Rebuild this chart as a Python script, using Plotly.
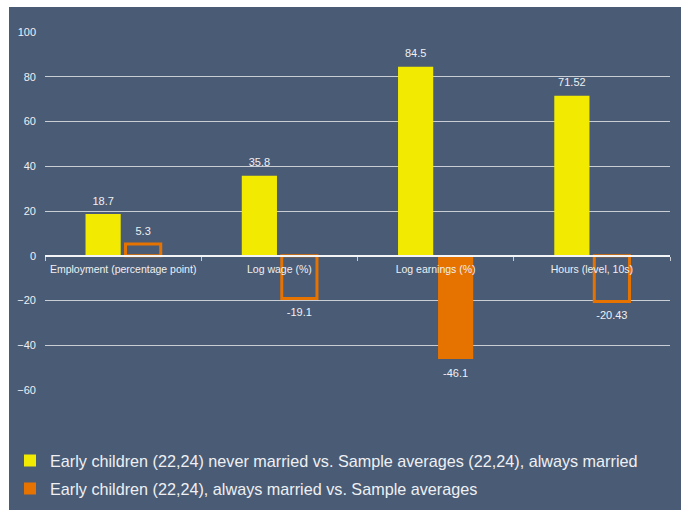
import plotly.graph_objects as go

categories = ["Employment (percentage point)", "Log wage (%)", "Log earnings (%)", "Hours (level, 10s)"]
never_married = [18.7, 35.8, 84.5, 71.52]
always_married = [5.3, -19.1, -46.1, -20.43]
always_married_hollow = [True, True, False, True]
series_names = [
    "Early children (22,24) never married vs. Sample averages (22,24), always married",
    "Early children (22,24), always married vs. Sample averages",
]
y_ticks = [100, 80, 60, 40, 20, 0, -20, -40, -60]

BG = "#4a5b75"
YELLOW = "#f2ea00"
ORANGE = "#e67300"
TXT = "#eef0f3"
FONT = "Liberation Sans, Arial, sans-serif"
BARGAP = 0.488

filled_vals = [None if h else v for v, h in zip(always_married, always_married_hollow)]
hollow_vals = [v if h else None for v, h in zip(always_married, always_married_hollow)]

fig = go.Figure()
fig.add_trace(go.Bar(
    x=categories, y=never_married, name=series_names[0], offsetgroup="a",
    marker=dict(color=YELLOW, line=dict(width=0)), legend="legend",
))
fig.add_trace(go.Bar(
    x=categories, y=filled_vals, name=series_names[1], offsetgroup="b",
    marker=dict(color=ORANGE, line=dict(width=0)), legend="legend2",
))
fig.add_trace(go.Bar(
    x=categories, y=hollow_vals, name=series_names[1], offsetgroup="b",
    marker=dict(color="rgba(0,0,0,0)", line=dict(width=3, color=ORANGE)),
    showlegend=False,
))

# value labels, grouped alongside the bars
for vals, grp in [(never_married, "a"), (always_married, "b")]:
    fig.add_trace(go.Scatter(
        x=categories, y=vals, mode="markers+text", offsetgroup=grp,
        marker=dict(size=[9 if v >= 0 else 14 for v in vals], opacity=0),
        text=[f"{v:g}" for v in vals],
        textposition=["top center" if v >= 0 else "bottom center" for v in vals],
        textfont=dict(color=TXT, size=11, family=FONT),
        cliponaxis=False, showlegend=False, hoverinfo="skip",
    ))

fig.add_shape(type="rect", xref="paper", yref="paper",
              x0=-0.0576, x1=1.0176, y0=-0.36, y1=1.0698,
              fillcolor=BG, line=dict(width=0), layer="below")

fig.update_layout(
    width=683, height=510,
    margin=dict(l=45, r=13, t=32, b=120, pad=0, autoexpand=False),
    paper_bgcolor="white", plot_bgcolor=BG,
    barmode="group", bargap=BARGAP, bargroupgap=0.12,
    scattermode="group", scattergap=BARGAP,
    font=dict(family=FONT, color=TXT),
    xaxis=dict(
        anchor="free", position=0.375, showgrid=False, automargin=False,
        showline=True, linecolor="#f4f5f7", linewidth=1.5, tickangle=0,
        ticks="outside", tickson="boundaries", ticklen=4, tickcolor="#c8ccd4",
        tickfont=dict(size=10.5, color=TXT, family=FONT), ticklabelstandoff=4,
        zeroline=False, fixedrange=True,
    ),
    yaxis=dict(
        range=[-60, 100], tickvals=y_ticks, showgrid=True, automargin=False,
        gridcolor="#c9cdd4", gridwidth=1.2, zeroline=False, showline=False,
        tickfont=dict(size=11, color=TXT, family=FONT), ticklabelstandoff=8,
    ),
    legend=dict(x=-0.056, xanchor="left", y=-0.198, yanchor="middle",
                bgcolor="rgba(0,0,0,0)", font=dict(size=16.2, color=TXT, family=FONT)),
    legend2=dict(x=-0.056, xanchor="left", y=-0.2765, yanchor="middle",
                 bgcolor="rgba(0,0,0,0)", font=dict(size=16.2, color=TXT, family=FONT)),
)

fig.write_html("out.html", config={"displayModeBar": False},
               post_script="document.body.style.margin='0';")
